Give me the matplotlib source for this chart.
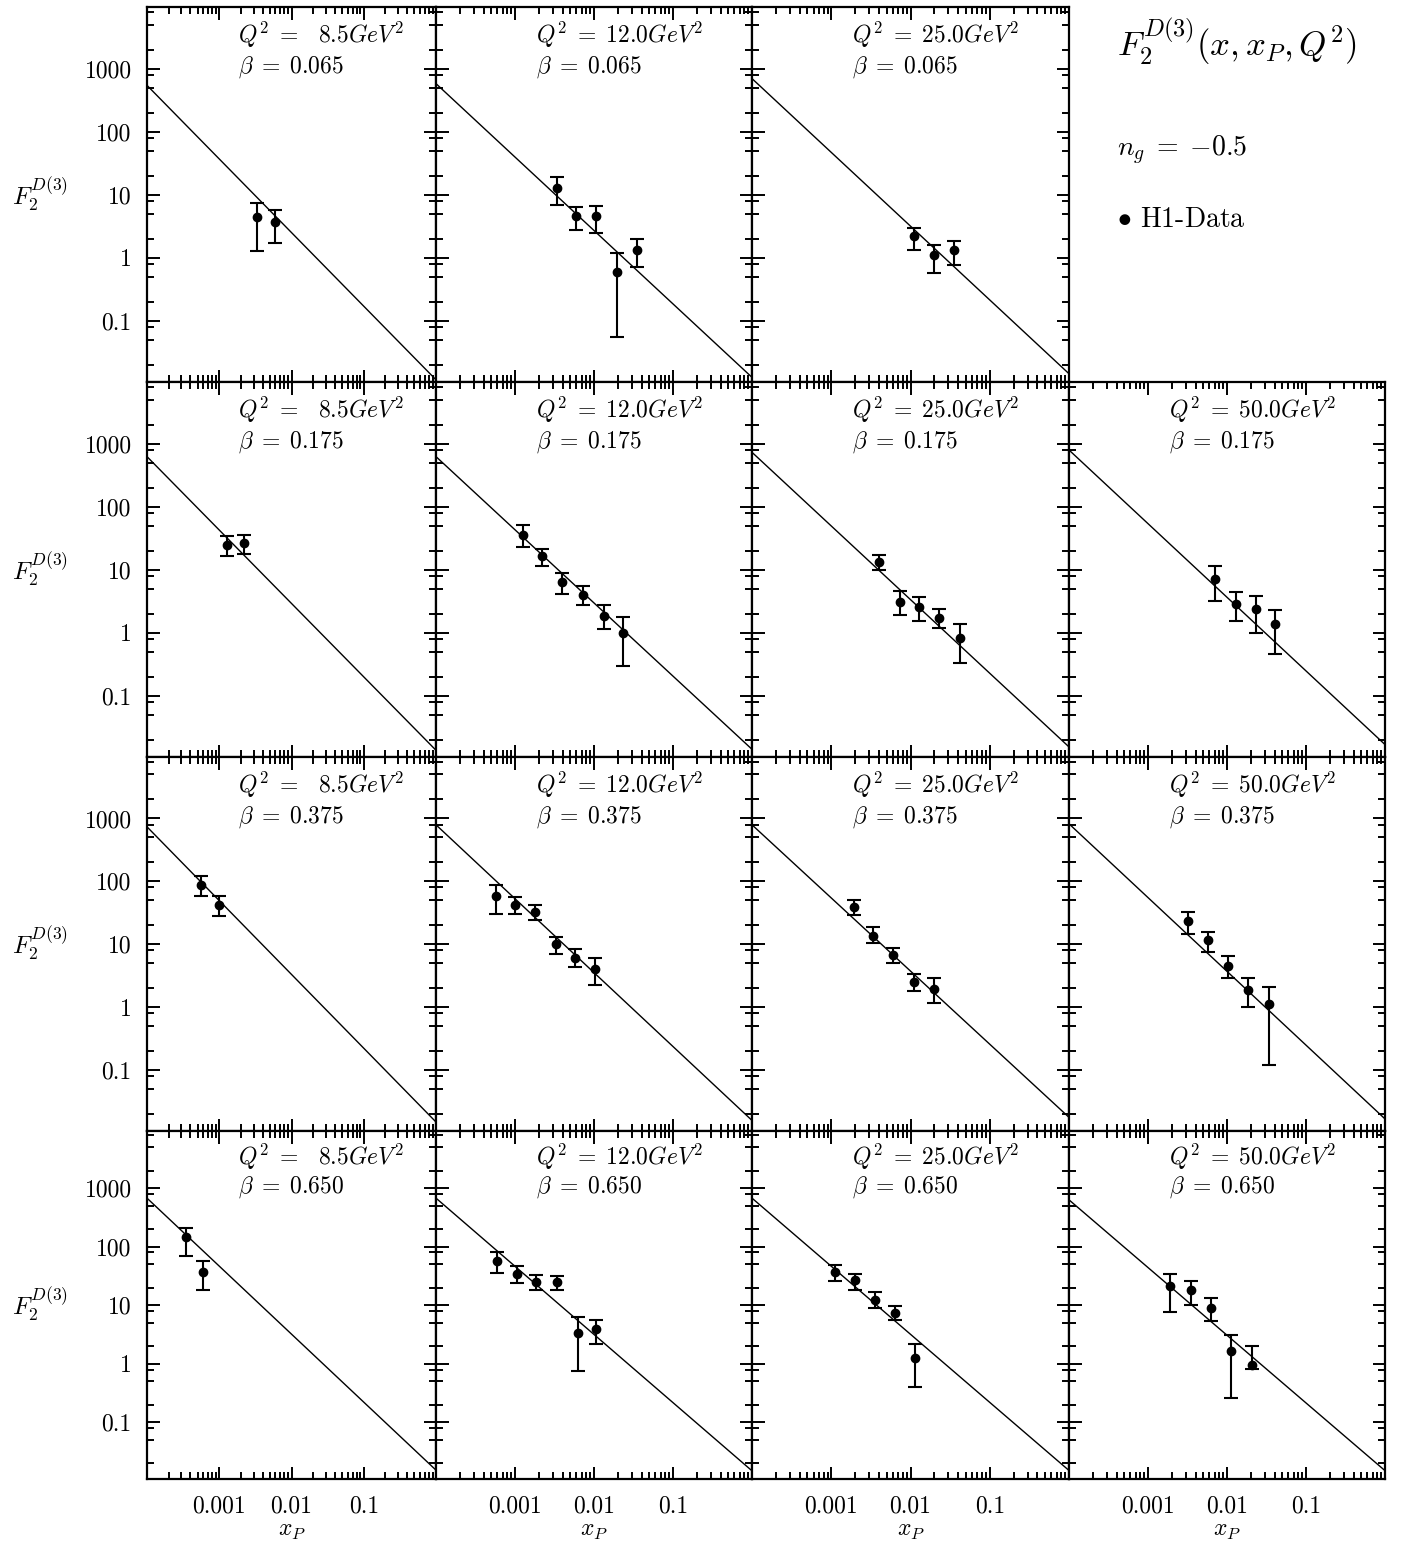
import numpy as np
import matplotlib.pyplot as plt
from matplotlib.ticker import FixedLocator, FixedFormatter, NullFormatter, LogLocator

plt.rcParams["mathtext.fontset"] = "cm"

Q2_VALUES = [8.5, 12.0, 25.0, 50.0]
BETA_VALUES = [0.065, 0.175, 0.375, 0.650]

# H1 points per (beta row, Q2 column): x_P, F2, upper and lower end of the error bar
XP = {
    (0, 0): [0.00337, 0.00597],
    (0, 1): [0.00344, 0.00592, 0.0107, 0.0194, 0.0347],
    (0, 2): [0.0112, 0.0200, 0.0356],
    (1, 0): [0.00129, 0.00218],
    (1, 1): [0.00127, 0.00222, 0.00398, 0.00731, 0.01325, 0.0235],
    (1, 2): [0.00403, 0.00733, 0.01285, 0.0231, 0.0420],
    (1, 3): [0.00713, 0.01285, 0.0231, 0.0411],
    (2, 0): [0.000565, 0.000998],
    (2, 1): [0.000582, 0.00101, 0.00181, 0.00328, 0.00577, 0.01035],
    (2, 2): [0.00195, 0.00333, 0.00603, 0.01107, 0.01986],
    (2, 3): [0.00324, 0.00574, 0.0103, 0.0186, 0.0340],
    (3, 0): [0.000344, 0.000604],
    (3, 1): [0.000590, 0.001064, 0.00187, 0.00345, 0.00622, 0.0107],
    (3, 2): [0.00113, 0.00199, 0.00358, 0.00643, 0.01156],
    (3, 3): [0.00190, 0.00350, 0.00631, 0.01138, 0.0205],
}
F2 = {
    (0, 0): [4.45, 3.71],
    (0, 1): [13.0, 4.56, 4.61, 0.598, 1.355],
    (0, 2): [2.22, 1.13, 1.35],
    (1, 0): [24.7, 27.0],
    (1, 1): [35.6, 16.6, 6.50, 3.94, 1.88, 0.986],
    (1, 2): [13.5, 3.09, 2.58, 1.72, 0.843],
    (1, 3): [7.25, 2.91, 2.39, 1.38],
    (2, 0): [87.7, 42.3],
    (2, 1): [59.4, 42.8, 32.7, 9.93, 6.11, 3.99],
    (2, 2): [39.3, 13.8, 6.65, 2.52, 1.97],
    (2, 3): [23.8, 11.6, 4.51, 1.90, 1.11],
    (3, 0): [147.0, 36.6],
    (3, 1): [57.2, 34.8, 25.1, 25.4, 3.31, 3.87],
    (3, 2): [36.6, 26.7, 12.4, 7.45, 1.28],
    (3, 3): [21.1, 17.9, 9.06, 1.66, 0.955],
}
F2_HI = {
    (0, 0): [7.5, 5.68],
    (0, 1): [19.1, 6.4, 6.65, 1.20, 1.97],
    (0, 2): [3.02, 1.58, 1.85],
    (1, 0): [34.4, 35.6],
    (1, 1): [51.3, 21.1, 8.81, 5.54, 2.74, 1.77],
    (1, 2): [17.2, 4.61, 3.76, 2.39, 1.37],
    (1, 3): [11.5, 4.45, 3.85, 2.31],
    (2, 0): [122.0, 58.7],
    (2, 1): [87.7, 56.6, 42.3, 13.2, 8.27, 5.96],
    (2, 2): [51.3, 18.5, 8.81, 3.33, 2.94],
    (2, 3): [33.1, 15.8, 6.41, 2.91, 2.12],
    (3, 0): [206.0, 56.4],
    (3, 1): [80.2, 46.3, 32.5, 31.3, 6.27, 5.57],
    (3, 2): [48.2, 34.4, 16.7, 9.66, 2.21],
    (3, 3): [34.8, 25.7, 13.1, 3.05, 2.01],
}
F2_LO = {
    (0, 0): [1.29, 1.72],
    (0, 1): [7.0, 2.74, 2.48, 0.0558, 0.718],
    (0, 2): [1.35, 0.577, 0.76],
    (1, 0): [16.6, 17.8],
    (1, 1): [22.7, 11.5, 4.09, 2.74, 1.15, 0.30],
    (1, 2): [9.93, 1.92, 1.55, 1.18, 0.338],
    (1, 3): [3.21, 1.55, 0.986, 0.463],
    (2, 0): [59.4, 28.3],
    (2, 1): [30.4, 30.8, 24.7, 6.90, 4.40, 2.28],
    (2, 2): [29.4, 10.3, 4.97, 1.79, 1.15],
    (2, 3): [14.7, 7.60, 2.91, 1.02, 0.120],
    (3, 0): [70.5, 17.9],
    (3, 1): [35.7, 24.2, 18.6, 18.6, 0.755, 2.15],
    (3, 2): [25.7, 18.6, 9.06, 5.51, 0.404],
    (3, 3): [7.63, 9.93, 5.36, 0.256, 0.83],
}

# model curve (n_g = -0.5): F2 at x_P = 1e-4 and at x_P = 1
XP_ENDS = [1e-4, 1.0]
MODEL_ENDS = {
    (0, 0): [543, 0.0117],
    (0, 1): [578, 0.0128],
    (0, 2): [695, 0.0146],
    (1, 0): [622, 0.0138],
    (1, 1): [622, 0.0143],
    (1, 2): [728, 0.0156],
    (1, 3): [792, 0.0170],
    (2, 0): [736, 0.0150],
    (2, 1): [792, 0.0159],
    (2, 2): [792, 0.0178],
    (2, 3): [822, 0.0168],
    (3, 0): [676, 0.0153],
    (3, 1): [676, 0.0149],
    (3, 2): [676, 0.0151],
    (3, 3): [632, 0.0150],
}

Y_TICKS = [0.1, 1, 10, 100, 1000]
Y_TICK_LABELS = ["0.1", "1", "10", "100", "1000"]
X_TICKS = [1e-4, 1e-3, 1e-2, 1e-1, 1.0]
X_TICK_LABELS = ["", "0.001", "0.01", "0.1", ""]

W, H = 1406, 1545
COL_EDGES = [147, 436, 752, 1069, 1385]
ROW_EDGES = [7, 382, 757, 1131, 1479]


def make_panel(fig, r, c):
    x0, x1 = COL_EDGES[c], COL_EDGES[c + 1]
    y0, y1 = ROW_EDGES[r], ROW_EDGES[r + 1]
    ax = fig.add_axes([x0 / W, 1 - y1 / H, (x1 - x0) / W, (y1 - y0) / H])
    ax.set_xscale("log")
    ax.set_yscale("log")
    ax.set_xlim(1e-4, 1.0)
    ax.set_ylim(0.0108, 9470)

    ax.xaxis.set_major_locator(FixedLocator(X_TICKS))
    ax.xaxis.set_minor_locator(LogLocator(base=10, subs=range(2, 10), numticks=20))
    ax.yaxis.set_major_locator(FixedLocator(Y_TICKS))
    ax.yaxis.set_minor_locator(LogLocator(base=10, subs=(2, 5, 8), numticks=20))
    ax.xaxis.set_minor_formatter(NullFormatter())
    ax.yaxis.set_minor_formatter(NullFormatter())
    ax.tick_params(which="both", direction="in", top=True, right=True,
                   width=1.4, labelfontfamily="cmr10", labelsize=17)
    ax.tick_params(which="major", length=9)
    ax.tick_params(which="minor", length=5)
    ax.tick_params(axis="x", pad=12)
    ax.tick_params(axis="y", pad=11)
    for sp in ax.spines.values():
        sp.set_linewidth(1.6)

    if c == 0:
        ax.yaxis.set_major_formatter(FixedFormatter(Y_TICK_LABELS))
        ax.set_ylabel(r"$F_2^{D(3)}$", rotation=0, fontsize=18, ha="center", va="center")
        ax.yaxis.set_label_coords(-0.37, 0.5)
    else:
        ax.yaxis.set_major_formatter(NullFormatter())
    if r == 3:
        ax.xaxis.set_major_formatter(FixedFormatter(X_TICK_LABELS))
        ax.set_xlabel(r"$x_P$", fontsize=17, labelpad=0)
    else:
        ax.xaxis.set_major_formatter(NullFormatter())

    key = (r, c)
    ax.plot(XP_ENDS, MODEL_ENDS[key], color="black", lw=1.0)
    f2 = np.array(F2[key])
    yerr = [f2 - np.array(F2_LO[key]), np.array(F2_HI[key]) - f2]
    ax.errorbar(XP[key], f2, yerr=yerr, fmt="o", color="black", ms=6,
                elinewidth=1.5, capsize=5, capthick=1.5)

    q2 = Q2_VALUES[c]
    q2_txt = (r"\enspace" if q2 < 10 else "") + f"{q2:.1f}"
    ax.text(0.315, 0.925, rf"$Q^2\;=\;{q2_txt}GeV^2$", transform=ax.transAxes,
            fontsize=17, va="center", ha="left")
    ax.text(0.315, 0.84, rf"$\beta\;=\;{BETA_VALUES[r]:.3f}$", transform=ax.transAxes,
            fontsize=17, va="center", ha="left")
    return ax


fig = plt.figure(figsize=(W / 100, H / 100), dpi=100)
for r in range(4):
    for c in range(4):
        if (r, c) in XP:
            make_panel(fig, r, c)

fig.text(1117 / W, 1 - 42 / H, r"$F_2^{D(3)}(x,x_P,Q^2)$", fontsize=25,
         ha="left", va="center")
fig.text(1117 / W, 1 - 150 / H, r"$n_g\;=\;{-}0.5$", fontsize=20, ha="left", va="center")
fig.text(1117 / W, 1 - 220 / H, r"$\bullet$ H1-Data", family="cmr10", fontsize=20,
         ha="left", va="center")

fig.savefig("out.png", dpi=100)
